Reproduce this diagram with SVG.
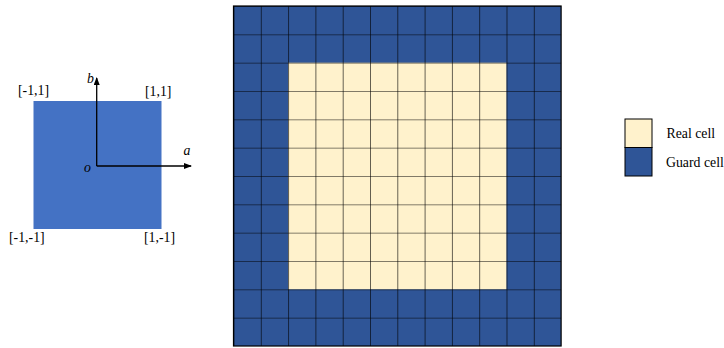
<svg xmlns="http://www.w3.org/2000/svg" width="724" height="348" viewBox="0 0 724 348">
<style>
text{font-family:'Liberation Serif','Times New Roman',serif;font-size:13.8px;fill:#000}
.i{font-style:italic}
.g{fill:#2F5597;stroke:#000;stroke-width:1}
.r{fill:#FFF2CC;stroke:#000;stroke-width:1}
.ax{stroke:#000;stroke-width:1.3;fill:none}
</style>
<defs>
<marker id="ah" markerWidth="8" markerHeight="6" refX="7" refY="3" orient="auto" markerUnits="userSpaceOnUse">
<path d="M0,0 L8,3 L0,6 Z" fill="#000"/>
</marker>
<pattern id="gridp" x="233.5" y="6" width="27.3" height="28.333" patternUnits="userSpaceOnUse">
<path d="M0,0 H27.3 M0,0 V28.333" stroke="#000" stroke-width="1.2" fill="none"/>
</pattern>
</defs>
<g id="unit-square">
<rect x="33.5" y="101" width="128" height="128" fill="#4472C4"/>
</g>
<g id="connectors">
<line class="ax" x1="96.7" y1="166" x2="96.7" y2="78" marker-end="url(#ah)"/>
<line class="ax" x1="96.7" y1="166" x2="191" y2="166" marker-end="url(#ah)"/>
</g>
<g id="labels">
<text class="i" x="87" y="83">b</text>
<text class="i" x="183.5" y="155">a</text>
<text class="i" x="84" y="172">o</text>
<text x="18" y="94.5">[-1,1]</text>
<text x="145" y="95.5">[1,1]</text>
<text x="9" y="242">[-1,-1]</text>
<text x="144" y="242">[1,-1]</text>
</g>
<g id="grid">
<rect x="233.5" y="6" width="327.6" height="340" fill="#2F5597"/>
<rect x="288.1" y="62.67" width="218.4" height="226.67" fill="#FFF2CC"/>
<rect x="233.5" y="6" width="327.6" height="340" fill="url(#gridp)"/>
<rect x="233.5" y="6" width="327.6" height="340" fill="none" stroke="#000" stroke-width="1.2"/>
</g>
<g id="legend">
<rect class="r" x="625" y="119" width="27" height="28.5"/>
<rect class="g" x="625" y="147.5" width="27" height="28.5"/>
<text x="666.5" y="138.3">Real cell</text>
<text x="666" y="166.5">Guard cell</text>
</g>
</svg>
